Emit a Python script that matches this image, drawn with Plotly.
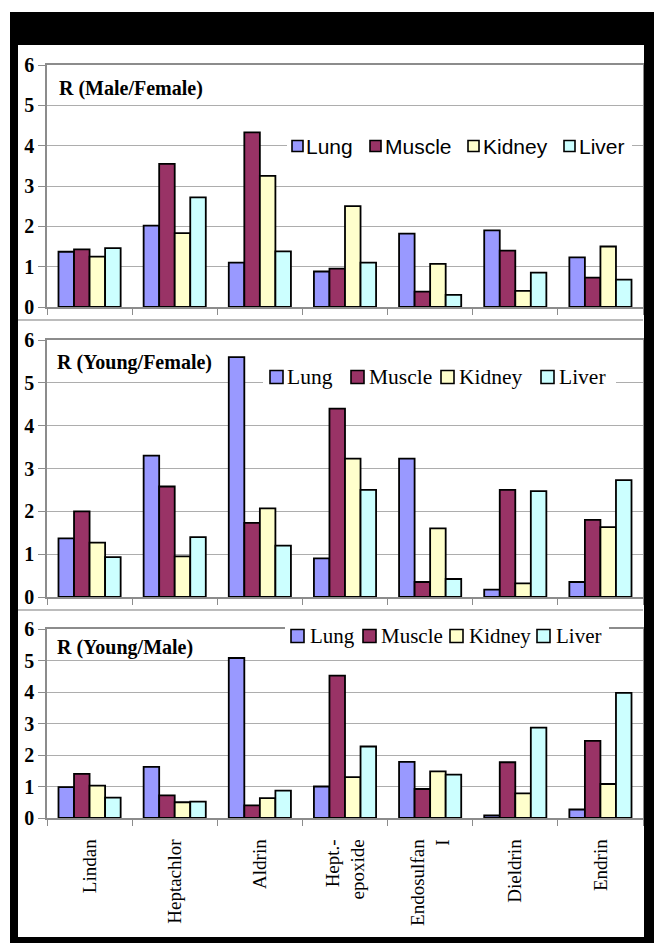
import plotly.graph_objects as go

# The page body adds an 8px margin; figure is sized to fit the 662x943 window.
OFF = 8
W, H = 662 - OFF, 943 - OFF

categories = ["Lindan", "Heptachlor", "Aldrin", "Hept.-<br>epoxide", "Endosulfan<br>I", "Dieldrin", "Endrin"]
series_names = ["Lung", "Muscle", "Kidney", "Liver"]
colors = ["#9999FF", "#993366", "#FFFFCC", "#CCFFFF"]

# Panel 1: R (Male/Female)
mf_lung   = [1.37, 2.02, 1.10, 0.88, 1.82, 1.90, 1.23]
mf_muscle = [1.43, 3.55, 4.33, 0.95, 0.38, 1.40, 0.73]
mf_kidney = [1.25, 1.83, 3.25, 2.50, 1.07, 0.40, 1.50]
mf_liver  = [1.46, 2.72, 1.38, 1.10, 0.30, 0.85, 0.68]

# Panel 2: R (Young/Female)
yf_lung   = [1.37, 3.30, 5.60, 0.90, 3.23, 0.17, 0.35]
yf_muscle = [2.00, 2.58, 1.73, 4.40, 0.35, 2.50, 1.80]
yf_kidney = [1.27, 0.95, 2.07, 3.23, 1.60, 0.32, 1.63]
yf_liver  = [0.93, 1.40, 1.20, 2.50, 0.42, 2.47, 2.73]

# Panel 3: R (Young/Male)
ym_lung   = [0.98, 1.62, 5.08, 1.00, 1.78, 0.08, 0.27]
ym_muscle = [1.40, 0.72, 0.40, 4.52, 0.92, 1.77, 2.45]
ym_kidney = [1.03, 0.50, 0.63, 1.30, 1.48, 0.78, 1.08]
ym_liver  = [0.65, 0.52, 0.87, 2.27, 1.38, 2.87, 3.97]

panel_titles = ["R (Male/Female)", "R (Young/Female)", "R (Young/Male)"]
y_ticks = [0, 1, 2, 3, 4, 5, 6]

panels = [
    [mf_lung, mf_muscle, mf_kidney, mf_liver],
    [yf_lung, yf_muscle, yf_kidney, yf_liver],
    [ym_lung, ym_muscle, ym_kidney, ym_liver],
]

def px(x):
    return (x - OFF) / W

def py(y):
    return 1 - (y - OFF) / H

# plot area pixel boxes in window pixels (top, bottom)
boxes = [(65, 307), (340, 597), (629, 818)]
XL, XR = 47, 643

SERIF = "Liberation Serif, Times New Roman, serif"
SANS = "Liberation Sans, Arial, sans-serif"

fig = go.Figure()
for p, series in enumerate(panels):
    xa = "x" if p == 0 else f"x{p+1}"
    ya = "y" if p == 0 else f"y{p+1}"
    for name, vals, col in zip(series_names, series, colors):
        fig.add_trace(go.Bar(
            x=categories, y=vals, name=name, xaxis=xa, yaxis=ya,
            marker=dict(color=col, line=dict(color="black", width=1.8)),
            showlegend=False,
        ))

layout = dict(
    width=W, height=H, margin=dict(l=0, r=0, t=0, b=0, autoexpand=False),
    paper_bgcolor="white", plot_bgcolor="white",
    barmode="group", bargap=0.27, bargroupgap=0,
    showlegend=False,
)

for p, (top, bot) in enumerate(boxes):
    xk = "xaxis" if p == 0 else f"xaxis{p+1}"
    yk = "yaxis" if p == 0 else f"yaxis{p+1}"
    ya = "y" if p == 0 else f"y{p+1}"
    xa = "x" if p == 0 else f"x{p+1}"
    layout[xk] = dict(
        domain=[px(XL), px(XR)], anchor=ya, type="category",
        showgrid=False, showline=True, linecolor="#8C8C8C", linewidth=1.5,
        mirror=True, ticks="outside", tickson="boundaries", ticklen=6,
        tickcolor="#8C8C8C", tickangle=-90,
        showticklabels=(p == 2),
        tickfont=dict(family=SERIF, size=19, color="black"),
        ticklabelstandoff=12,
        fixedrange=True,
    )
    layout[yk] = dict(
        domain=[py(bot), py(top)], anchor=xa, range=[0, 6],
        tickvals=y_ticks, ticktext=[str(v) for v in y_ticks],
        showgrid=True, gridcolor="#ADADAD", gridwidth=1,
        showline=True, linecolor="#8C8C8C", linewidth=1.5, mirror=True,
        ticks="outside", ticklen=7, tickcolor="#8C8C8C",
        tickfont=dict(family=SERIF, size=20, color="black", weight="bold"),
        zeroline=False, fixedrange=True,
    )

annotations = []
shapes = []

# panel titles
title_pos = [(57, 88), (55, 362), (55, 647)]
for t, (tx, ty) in zip(panel_titles, title_pos):
    annotations.append(dict(
        text=f"<b>{t}</b>", x=px(tx), y=py(ty), xref="paper", yref="paper",
        xanchor="left", yanchor="middle", showarrow=False,
        font=dict(family=SERIF, size=20, color="black"),
    ))

# legends (one per panel): box extent, centre y, swatch lefts, text lefts, swatch size, font
legend_specs = [
    dict(box=(287, 632), cy=146, sw=[292, 370, 468, 564], tx=[304, 383, 481, 577], size=11,
         font=dict(family=SANS, size=21, color="black")),
    dict(box=(263, 616), cy=377, sw=[270, 351, 441, 541], tx=[285, 367, 457, 557], size=13,
         font=dict(family=SERIF, size=21.5, color="black")),
    dict(box=(285, 609), cy=636, sw=[291, 363, 450, 537], tx=[308, 379, 467, 554], size=13,
         font=dict(family=SERIF, size=21, color="black")),
]
for spec in legend_specs:
    cy = spec["cy"]
    s = spec["size"]
    shapes.append(dict(type="rect", xref="paper", yref="paper",
                       x0=px(spec["box"][0]), x1=px(spec["box"][1]),
                       y0=py(cy + 12), y1=py(cy - 12),
                       fillcolor="white", line=dict(width=0), layer="above"))
    for name, col, sx, tx in zip(series_names, colors, spec["sw"], spec["tx"]):
        shapes.append(dict(type="rect", xref="paper", yref="paper",
                           x0=px(sx), x1=px(sx + s), y0=py(cy + s / 2), y1=py(cy - s / 2),
                           fillcolor=col, line=dict(color="black", width=1.6), layer="above"))
        annotations.append(dict(text=name, x=px(tx), y=py(cy), xref="paper", yref="paper",
                                xanchor="left", yanchor="middle", showarrow=False,
                                font=spec["font"]))

# black frame and separators
shapes += [
    dict(type="rect", xref="paper", yref="paper", x0=px(10), x1=1, y0=py(45), y1=py(12),
         fillcolor="black", line=dict(width=0), layer="above"),
    dict(type="rect", xref="paper", yref="paper", x0=px(10), x1=px(18), y0=0, y1=py(12),
         fillcolor="black", line=dict(width=0), layer="above"),
    dict(type="rect", xref="paper", yref="paper", x0=px(644), x1=1, y0=0, y1=py(12),
         fillcolor="black", line=dict(width=0), layer="above"),
    dict(type="rect", xref="paper", yref="paper", x0=px(10), x1=1, y0=0, y1=py(937),
         fillcolor="black", line=dict(width=0), layer="above"),
    dict(type="line", xref="paper", yref="paper", x0=px(18), x1=px(643), y0=py(320), y1=py(320),
         line=dict(color="#A6A6A6", width=1.5)),
    dict(type="line", xref="paper", yref="paper", x0=px(18), x1=px(643), y0=py(610), y1=py(610),
         line=dict(color="#A6A6A6", width=1.5)),
]

layout["annotations"] = annotations
layout["shapes"] = shapes

fig.update_layout(**layout)
fig.write_html("out.html")
